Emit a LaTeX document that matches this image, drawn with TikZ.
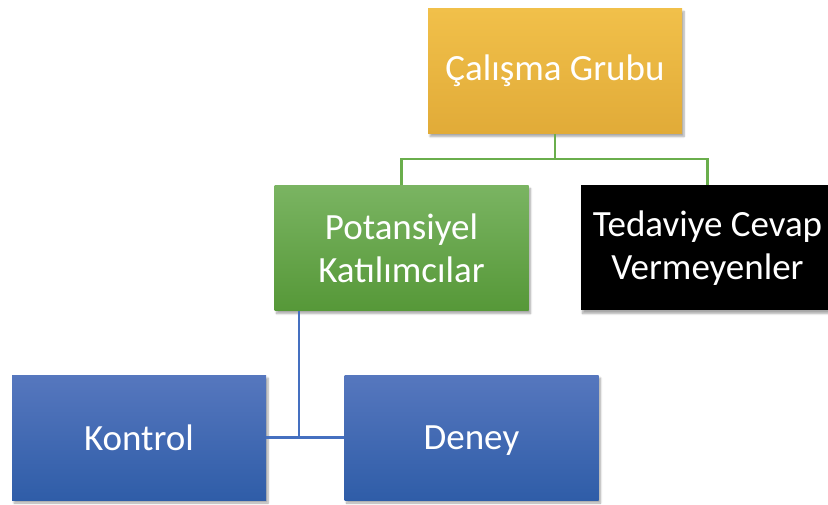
\documentclass[tikz,border=0pt]{standalone}
\usepackage{fontspec}
\setmainfont{Carlito}
\usetikzlibrary{shadows.blur}

\definecolor{goldtop}{HTML}{F1C04A}
\definecolor{goldbot}{HTML}{E1AB38}
\definecolor{greentop}{HTML}{7AB462}
\definecolor{greenbot}{HTML}{569838}
\definecolor{bluetop}{HTML}{5677BE}
\definecolor{bluebot}{HTML}{2F5DA8}
\definecolor{greenline}{HTML}{6AAE4C}
\definecolor{blueline}{HTML}{4570C0}

\tikzset{
  box/.style={rectangle, minimum width=254pt, minimum height=125pt,
    inner sep=0pt, align=center, text=white,
    font=\fontsize{37}{43}\selectfont,
    blur shadow={shadow xshift=2pt, shadow yshift=-3pt,
      shadow blur steps=6, shadow opacity=35}},
  goldbox/.style={box, top color=goldtop, bottom color=goldbot},
  greenbox/.style={box, top color=greentop, bottom color=greenbot},
  bluebox/.style={box, top color=bluetop, bottom color=bluebot},
  blackbox/.style={box, fill=black},
  greenlink/.style={draw=greenline, line width=2.2pt},
  bluelink/.style={draw=blueline, line width=2.2pt}
}

\begin{document}
\begin{tikzpicture}[x=1pt, y=-1pt]
  \useasboundingbox (0,0) rectangle (828,505);
  \clip (0,0) rectangle (828,505);

  \node[goldbox] (cal) at (555,71) {Çalışma Grubu};
  \node[greenbox] (pot) at (401.5,248) {Potansiyel\\Katılımcılar};
  \node[blackbox] (ted) at (707.5,248) {Tedaviye Cevap\\Vermeyenler};
  \node[bluebox] (kon) at (139,437.5) {Kontrol};
  \node[bluebox] (den) at (471.5,437.5) {Dene\smash{y}};

  % upper tree: study group to its two branches
  \draw[greenlink] (cal.south) -- ++(0,25) coordinate (bar)
    (pot.north) |- (bar) -| (ted.north);

  % lower tree: participants split into control and experiment
  \draw[bluelink] ([xshift=25pt]pot.south west)
    -- ([xshift=25pt]pot.south west |- kon.east);
  \draw[bluelink] (kon.east) -- (den.west);
\end{tikzpicture}
\end{document}
